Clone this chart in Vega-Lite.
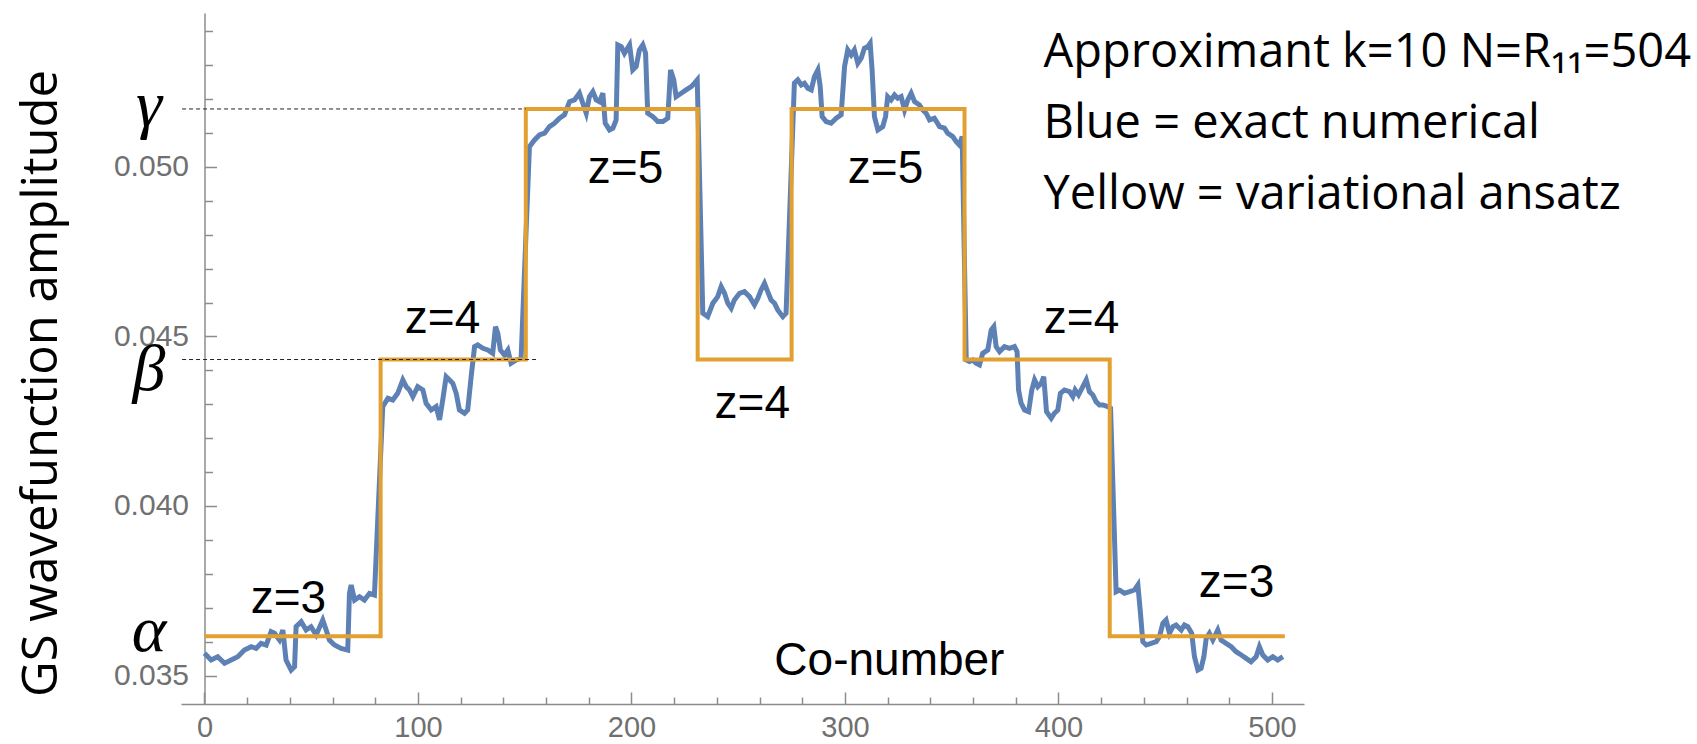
{
  "$schema": "https://vega.github.io/schema/vega-lite/v6.json",
  "width": 1123,
  "height": 691,
  "autosize": "none",
  "padding": {"left": 181, "top": 13, "right": 393, "bottom": 40},
  "background": "white",
  "config": {"view": {"stroke": null}},
  "datasets": {
    "blue": [
      {"x": 0, "y": 0.035655}, {"x": 3.1, "y": 0.035457}, {"x": 6.2, "y": 0.035555}, {"x": 9.4, "y": 0.03536},
      {"x": 12.5, "y": 0.035457}, {"x": 15.6, "y": 0.035555}, {"x": 18.7, "y": 0.03575}, {"x": 21.9, "y": 0.03585},
      {"x": 24.2, "y": 0.0358}, {"x": 26.5, "y": 0.03595}, {"x": 28.9, "y": 0.0359}, {"x": 31.2, "y": 0.036293},
      {"x": 32.8, "y": 0.036245}, {"x": 35.1, "y": 0.036047}, {"x": 36.7, "y": 0.036342}, {"x": 38.2, "y": 0.035457},
      {"x": 40.6, "y": 0.03516}, {"x": 42.2, "y": 0.03526}, {"x": 42.9, "y": 0.03644}, {"x": 45.3, "y": 0.036588},
      {"x": 47.6, "y": 0.036342}, {"x": 49.9, "y": 0.03644}, {"x": 52.3, "y": 0.036195}, {"x": 55.4, "y": 0.036637},
      {"x": 57, "y": 0.036342}, {"x": 58.5, "y": 0.036047}, {"x": 60.9, "y": 0.0359}, {"x": 64, "y": 0.0358},
      {"x": 67.1, "y": 0.03575}, {"x": 67.9, "y": 0.037424}, {"x": 68.7, "y": 0.03767}, {"x": 70.3, "y": 0.037227},
      {"x": 72.6, "y": 0.037325}, {"x": 74.9, "y": 0.037227}, {"x": 77.3, "y": 0.037424}, {"x": 79.6, "y": 0.037375},
      {"x": 83.5, "y": 0.04293}, {"x": 85.9, "y": 0.043177}, {"x": 88.2, "y": 0.043127}, {"x": 90.5, "y": 0.043324},
      {"x": 92.9, "y": 0.043717}, {"x": 94.5, "y": 0.043519}, {"x": 96, "y": 0.043422}, {"x": 97.6, "y": 0.043224},
      {"x": 99.9, "y": 0.043519}, {"x": 102.3, "y": 0.043422}, {"x": 103.8, "y": 0.043029}, {"x": 106.2, "y": 0.042832},
      {"x": 108.5, "y": 0.04293}, {"x": 110.1, "y": 0.042537}, {"x": 111.6, "y": 0.043127}, {"x": 113.2, "y": 0.043814},
      {"x": 114.8, "y": 0.043717}, {"x": 116.3, "y": 0.043619}, {"x": 117.9, "y": 0.043324}, {"x": 119.4, "y": 0.042832},
      {"x": 121.8, "y": 0.042735}, {"x": 123.3, "y": 0.042832}, {"x": 124.9, "y": 0.043814}, {"x": 126.5, "y": 0.0447},
      {"x": 128, "y": 0.044749}, {"x": 130.4, "y": 0.044652}, {"x": 132.7, "y": 0.044602}, {"x": 135, "y": 0.044504},
      {"x": 136.3, "y": 0.045289}, {"x": 137.4, "y": 0.045094}, {"x": 138.6, "y": 0.044602}, {"x": 140.5, "y": 0.044454},
      {"x": 142.1, "y": 0.044602}, {"x": 143.6, "y": 0.044209}, {"x": 146, "y": 0.044307}, {"x": 148.3, "y": 0.044357},
      {"x": 152.2, "y": 0.050597}, {"x": 154.6, "y": 0.050794}, {"x": 156.9, "y": 0.050942}, {"x": 159.3, "y": 0.050995},
      {"x": 161.6, "y": 0.05119}, {"x": 163.9, "y": 0.05129}, {"x": 166.3, "y": 0.051437}, {"x": 168.6, "y": 0.051534},
      {"x": 171, "y": 0.051926}, {"x": 173.3, "y": 0.051976}, {"x": 175.6, "y": 0.052174}, {"x": 177.2, "y": 0.051879},
      {"x": 178.8, "y": 0.051584}, {"x": 180.3, "y": 0.052074}, {"x": 181.9, "y": 0.052221}, {"x": 183.5, "y": 0.051976},
      {"x": 185, "y": 0.051926}, {"x": 186.6, "y": 0.052174}, {"x": 187.7, "y": 0.05129}, {"x": 189.7, "y": 0.051092},
      {"x": 191.3, "y": 0.051142}, {"x": 192.8, "y": 0.051387}, {"x": 193.6, "y": 0.053599}, {"x": 195.2, "y": 0.053549},
      {"x": 196.7, "y": 0.053354}, {"x": 199.1, "y": 0.053599}, {"x": 200.6, "y": 0.052861}, {"x": 202.2, "y": 0.052959},
      {"x": 203.7, "y": 0.053451}, {"x": 205.3, "y": 0.053599}, {"x": 206.6, "y": 0.053354}, {"x": 207.6, "y": 0.051584},
      {"x": 210, "y": 0.051484}, {"x": 212.3, "y": 0.051337}, {"x": 214.7, "y": 0.051337}, {"x": 217, "y": 0.051437},
      {"x": 218.3, "y": 0.052861}, {"x": 219.8, "y": 0.052566}, {"x": 220.9, "y": 0.052074}, {"x": 223.3, "y": 0.052174},
      {"x": 225.6, "y": 0.052271}, {"x": 228, "y": 0.052369}, {"x": 229.5, "y": 0.052469}, {"x": 230.8, "y": 0.052566},
      {"x": 233.4, "y": 0.045684}, {"x": 235.7, "y": 0.045584}, {"x": 238.1, "y": 0.04598}, {"x": 240.4, "y": 0.046174},
      {"x": 242, "y": 0.046469}, {"x": 243.6, "y": 0.046274}, {"x": 245.1, "y": 0.04598}, {"x": 246.7, "y": 0.045832},
      {"x": 248.2, "y": 0.046077}, {"x": 250.6, "y": 0.046274}, {"x": 252.9, "y": 0.046322}, {"x": 255.3, "y": 0.046174},
      {"x": 257.6, "y": 0.04593}, {"x": 259.2, "y": 0.046127}, {"x": 260.7, "y": 0.046372}, {"x": 262.3, "y": 0.046569},
      {"x": 263.8, "y": 0.046322}, {"x": 265.4, "y": 0.046077}, {"x": 267, "y": 0.04598}, {"x": 268.5, "y": 0.045782},
      {"x": 270.9, "y": 0.045584}, {"x": 272.4, "y": 0.045684},
      {"x": 276.3, "y": 0.052469}, {"x": 277.9, "y": 0.052566}, {"x": 279.5, "y": 0.052419}, {"x": 281, "y": 0.052469},
      {"x": 282.6, "y": 0.052321}, {"x": 284.2, "y": 0.052271}, {"x": 285.7, "y": 0.052664}, {"x": 287.3, "y": 0.052861},
      {"x": 288.4, "y": 0.052369}, {"x": 289.3, "y": 0.051484}, {"x": 291.2, "y": 0.051337}, {"x": 293.5, "y": 0.05129},
      {"x": 295.9, "y": 0.051437}, {"x": 298.2, "y": 0.051534}, {"x": 299.8, "y": 0.052959}, {"x": 301.3, "y": 0.053451},
      {"x": 302.9, "y": 0.053304}, {"x": 304.4, "y": 0.053451}, {"x": 306, "y": 0.053059}, {"x": 307.6, "y": 0.053206},
      {"x": 309.1, "y": 0.053501}, {"x": 310.7, "y": 0.053549}, {"x": 311.8, "y": 0.053649}, {"x": 312.7, "y": 0.052861},
      {"x": 313.8, "y": 0.051484}, {"x": 315.4, "y": 0.051092}, {"x": 317.7, "y": 0.05119}, {"x": 319, "y": 0.051484},
      {"x": 320, "y": 0.052074}, {"x": 321.6, "y": 0.051976}, {"x": 323.2, "y": 0.052124}, {"x": 324.7, "y": 0.052027},
      {"x": 326.3, "y": 0.052074}, {"x": 327.9, "y": 0.05168}, {"x": 329.4, "y": 0.051976}, {"x": 331, "y": 0.052174},
      {"x": 332.6, "y": 0.051926}, {"x": 334.9, "y": 0.051829}, {"x": 336.4, "y": 0.05168}, {"x": 338, "y": 0.051584},
      {"x": 339.6, "y": 0.051387}, {"x": 341.9, "y": 0.051437}, {"x": 344.3, "y": 0.05119}, {"x": 346.6, "y": 0.051142},
      {"x": 348.1, "y": 0.050995}, {"x": 350.5, "y": 0.050894}, {"x": 352.1, "y": 0.050747}, {"x": 353.6, "y": 0.050649},
      {"x": 354.9, "y": 0.050894},
      {"x": 356.8, "y": 0.044307}, {"x": 358.3, "y": 0.04426}, {"x": 359.9, "y": 0.044307}, {"x": 361.4, "y": 0.044209},
      {"x": 363, "y": 0.04416}, {"x": 364.5, "y": 0.044504}, {"x": 366.9, "y": 0.044602}, {"x": 368.5, "y": 0.045192},
      {"x": 369.7, "y": 0.045289}, {"x": 370.8, "y": 0.0447}, {"x": 372.4, "y": 0.044552}, {"x": 374.7, "y": 0.0447},
      {"x": 377, "y": 0.044652}, {"x": 379.4, "y": 0.0447}, {"x": 380.6, "y": 0.044552}, {"x": 381.3, "y": 0.043422},
      {"x": 382.5, "y": 0.04303}, {"x": 384.1, "y": 0.042832}, {"x": 386, "y": 0.042782}, {"x": 387.5, "y": 0.043422},
      {"x": 388.8, "y": 0.043717}, {"x": 390.3, "y": 0.043519}, {"x": 391.9, "y": 0.043619}, {"x": 393.1, "y": 0.043814},
      {"x": 394.4, "y": 0.042782}, {"x": 396.6, "y": 0.042587}, {"x": 398.1, "y": 0.042735}, {"x": 399.7, "y": 0.042832},
      {"x": 400.9, "y": 0.043324}, {"x": 402.8, "y": 0.043422}, {"x": 405.2, "y": 0.043372}, {"x": 406.7, "y": 0.043224},
      {"x": 407.8, "y": 0.043422}, {"x": 409.4, "y": 0.043274}, {"x": 411.4, "y": 0.043519}, {"x": 413, "y": 0.043717},
      {"x": 414.5, "y": 0.043372}, {"x": 416.1, "y": 0.043274}, {"x": 417.6, "y": 0.043077}, {"x": 419.2, "y": 0.042979},
      {"x": 420.8, "y": 0.042979}, {"x": 423.1, "y": 0.04293}, {"x": 424.4, "y": 0.042882},
      {"x": 427, "y": 0.037472}, {"x": 428.6, "y": 0.037522}, {"x": 430.9, "y": 0.037425}, {"x": 433.3, "y": 0.037472},
      {"x": 435.6, "y": 0.037522}, {"x": 437.2, "y": 0.03767}, {"x": 438.4, "y": 0.036835}, {"x": 439.5, "y": 0.035997},
      {"x": 441.1, "y": 0.0359}, {"x": 443.4, "y": 0.03595}, {"x": 445.8, "y": 0.035997}, {"x": 447.3, "y": 0.036145},
      {"x": 448.9, "y": 0.03654}, {"x": 450.4, "y": 0.036637}, {"x": 452, "y": 0.036245}, {"x": 453.6, "y": 0.03644},
      {"x": 455.1, "y": 0.03649}, {"x": 457.5, "y": 0.036342}, {"x": 459, "y": 0.03649}, {"x": 460.6, "y": 0.03644},
      {"x": 462.4, "y": 0.036245}, {"x": 463.7, "y": 0.035555}, {"x": 465.3, "y": 0.035162}, {"x": 466.8, "y": 0.035212},
      {"x": 468.1, "y": 0.035555}, {"x": 469.2, "y": 0.036097}, {"x": 470.7, "y": 0.036245}, {"x": 472.3, "y": 0.036047},
      {"x": 474.6, "y": 0.036342}, {"x": 476.2, "y": 0.036047}, {"x": 478.5, "y": 0.03595}, {"x": 480.9, "y": 0.03585},
      {"x": 483.2, "y": 0.035702}, {"x": 485.6, "y": 0.035605}, {"x": 487.9, "y": 0.035507}, {"x": 490.2, "y": 0.035407},
      {"x": 492.6, "y": 0.035555}, {"x": 494.1, "y": 0.03585}, {"x": 495.7, "y": 0.035605}, {"x": 498, "y": 0.035457},
      {"x": 500.4, "y": 0.035555}, {"x": 502.7, "y": 0.035457}, {"x": 505.1, "y": 0.035555}
    ],
    "yellow": [
      {"x": 0, "y": 0.03616}, {"x": 82.5, "y": 0.04432}, {"x": 150.5, "y": 0.05171}, {"x": 231, "y": 0.04432},
      {"x": 275, "y": 0.05171}, {"x": 356, "y": 0.04432}, {"x": 424, "y": 0.03616}, {"x": 506, "y": 0.03616}
    ],
    "dashes": [
      {"x": -10.5, "x2": 150.5, "y": 0.05171},
      {"x": -10.5, "x2": 155.3, "y": 0.04432}
    ],
    "zlabels": [
      {"t": "z=3", "x": 39.3, "y": 0.03684},
      {"t": "z=4", "x": 111.5, "y": 0.04511},
      {"t": "z=5", "x": 197.2, "y": 0.04953},
      {"t": "z=4", "x": 256.6, "y": 0.04259},
      {"t": "z=5", "x": 319, "y": 0.04953},
      {"t": "z=4", "x": 410.8, "y": 0.04511},
      {"t": "z=3", "x": 483.4, "y": 0.03732},
      {"t": "Co-number", "x": 320.8, "y": 0.035015}
    ],
    "notes": [
      {"t": "Approximant k=10 N=R₁₁=504", "x": 393, "y": 0.05295},
      {"t": "Blue = exact numerical", "x": 393, "y": 0.05084},
      {"t": "Yellow = variational ansatz", "x": 393, "y": 0.04876}
    ],
    "greek": [
      {"t": "γ", "x": -26, "y": 0.0518},
      {"t": "β", "x": -26, "y": 0.0440},
      {"t": "α", "x": -26, "y": 0.0363}
    ]
  },
  "encoding": {
    "x": {
      "field": "x", "type": "quantitative",
      "scale": {"domain": [-11, 515], "nice": false, "zero": false},
      "axis": {
        "title": null,
        "values": [0, 20, 40, 60, 80, 100, 120, 140, 160, 180, 200, 220, 240, 260, 280, 300, 320, 340, 360, 380, 400, 420, 440, 460, 480, 500],
        "format": "d",
        "labelExpr": "datum.value % 100 === 0 ? datum.label : ''",
        "grid": false,
        "domainColor": "#8c8c8c", "domainWidth": 1.5,
        "tickColor": "#8c8c8c", "tickWidth": 1.5,
        "tickSize": {"condition": {"test": "datum.value % 100 === 0", "value": -12}, "value": -7},
        "labelPadding": 21,
        "labelFont": "Liberation Sans", "labelFontSize": 29, "labelColor": "#707070",
        "labelOverlap": false, "labelFlush": false, "labelBound": false
      }
    },
    "y": {
      "field": "y", "type": "quantitative",
      "scale": {"domain": [0.03416, 0.05454], "nice": false, "zero": false},
      "axis": {
        "title": "GS wavefunction amplitude",
        "titleFont": "Open Sans", "titleFontSize": 49, "titleFontWeight": "normal", "titleColor": "black",
        "titleAngle": -90, "titleX": -163, "titleY": 370, "titleBaseline": "middle", "titleAlign": "center",
        "values": [0.035, 0.036, 0.037, 0.038, 0.039, 0.040, 0.041, 0.042, 0.043, 0.044, 0.045, 0.046, 0.047, 0.048, 0.049, 0.050, 0.051, 0.052, 0.053, 0.054],
        "labelExpr": "abs(datum.value * 200 - round(datum.value * 200)) < 0.01 ? format(datum.value, '.3f') : ''",
        "grid": false,
        "offset": -23.5,
        "domainColor": "#8c8c8c", "domainWidth": 1.5,
        "tickColor": "#8c8c8c", "tickWidth": 1.5,
        "tickSize": {"condition": {"test": "abs(datum.value * 200 - round(datum.value * 200)) < 0.01", "value": -12}, "value": -8},
        "labelPadding": 28,
        "labelFont": "Liberation Sans", "labelFontSize": 30, "labelColor": "#707070",
        "labelOverlap": false, "labelFlush": false, "labelBound": false
      }
    }
  },
  "layer": [
    {
      "data": {"name": "blue"},
      "mark": {"type": "line", "color": "#5E81B5", "strokeWidth": 5}
    },
    {
      "data": {"name": "yellow"},
      "mark": {"type": "line", "color": "#E1A030", "strokeWidth": 4, "interpolate": "step-after"}
    },
    {
      "data": {"name": "dashes"},
      "mark": {"type": "rule", "color": "#222222", "strokeWidth": 1, "strokeDash": [4, 3]},
      "encoding": {
        "x2": {"field": "x2"}
      }
    },
    {
      "data": {"name": "zlabels"},
      "mark": {"type": "text", "font": "Liberation Sans", "fontSize": 46, "color": "black", "align": "center", "baseline": "alphabetic"},
      "encoding": {
        "text": {"field": "t"}
      }
    },
    {
      "data": {"name": "notes"},
      "mark": {"type": "text", "font": "Open Sans", "fontSize": 47, "color": "black", "align": "left", "baseline": "alphabetic"},
      "encoding": {
        "text": {"field": "t"}
      }
    },
    {
      "data": {"name": "greek"},
      "mark": {"type": "text", "font": "Liberation Serif", "fontStyle": "italic", "fontSize": 66, "color": "black", "align": "center", "baseline": "middle"},
      "encoding": {
        "text": {"field": "t"}
      }
    }
  ]
}
